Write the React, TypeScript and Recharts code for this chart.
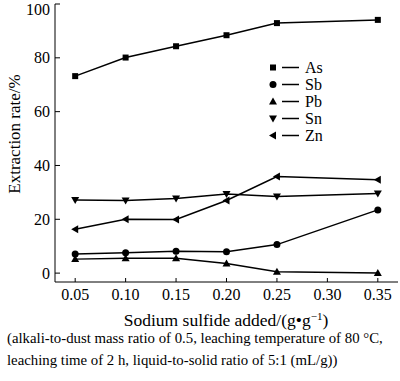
import React from "react";
import { Legend, Line, LineChart, XAxis, YAxis } from "recharts";

const doses = [0.05, 0.1, 0.15, 0.2, 0.25, 0.35];
const xTicks = [0.05, 0.1, 0.15, 0.2, 0.25, 0.3, 0.35];
const yTicks = [0, 20, 40, 60, 80, 100];

const asRate = [73.2, 80.1, 84.3, 88.4, 92.9, 94.1];
const sbRate = [7.1, 7.6, 8.1, 7.9, 10.6, 23.5];
const pbRate = [5.2, 5.5, 5.5, 3.6, 0.5, 0];
const snRate = [27.2, 27.0, 27.7, 29.4, 28.5, 29.6];
const znRate = [16.3, 20.0, 19.9, 27.0, 35.9, 34.7];

const FONT = '"Liberation Serif", "Times New Roman", serif';

type Shape = "square" | "circle" | "up" | "down" | "left";

const SERIES: { key: string; name: string; shape: Shape }[] = [
  { key: "As", name: "As", shape: "square" },
  { key: "Sb", name: "Sb", shape: "circle" },
  { key: "Pb", name: "Pb", shape: "up" },
  { key: "Sn", name: "Sn", shape: "down" },
  { key: "Zn", name: "Zn", shape: "left" },
];

const data = doses.map((d, i) => ({
  dose: d,
  As: asRate[i],
  Sb: sbRate[i],
  Pb: pbRate[i],
  Sn: snRate[i],
  Zn: znRate[i],
}));

function marker(shape: Shape, cx: number, cy: number, key?: string | number) {
  const fill = "#000";
  switch (shape) {
    case "square":
      return <rect key={key} x={cx - 3} y={cy - 3} width={6} height={6} fill={fill} />;
    case "circle":
      return <circle key={key} cx={cx} cy={cy} r={3.5} fill={fill} />;
    case "up":
      return (
        <polygon
          key={key}
          points={`${cx},${cy - 4} ${cx - 4},${cy + 3} ${cx + 4},${cy + 3}`}
          fill={fill}
        />
      );
    case "down":
      return (
        <polygon
          key={key}
          points={`${cx - 4},${cy - 3} ${cx + 4},${cy - 3} ${cx},${cy + 4}`}
          fill={fill}
        />
      );
    default:
      return (
        <polygon
          key={key}
          points={`${cx - 4},${cy} ${cx + 3},${cy - 4} ${cx + 3},${cy + 4}`}
          fill={fill}
        />
      );
  }
}

function renderLegend() {
  return (
    <div style={{ fontFamily: FONT, fontSize: 16, lineHeight: "16px" }}>
      {SERIES.map((s) => (
        <div key={s.key} style={{ display: "flex", alignItems: "center", height: 17 }}>
          <svg width={32} height={17}>
            {marker(s.shape, 5, 8.5)}
            <line x1={14} x2={31} y1={8.5} y2={8.5} stroke="#000" strokeWidth={1.5} />
          </svg>
          <span style={{ marginLeft: 5 }}>{s.name}</span>
        </div>
      ))}
    </div>
  );
}

function XLabel() {
  return (
    <text x={226} y={326} textAnchor="middle" fontFamily={FONT} fontSize={17.5} fill="#000">
      <tspan>Sodium sulfide added/(g•g</tspan>
      <tspan dy={-6} fontSize={11}>
        −1
      </tspan>
      <tspan dy={6}>)</tspan>
    </text>
  );
}

function YLabel() {
  return (
    <text
      x={14}
      y={134}
      transform="rotate(-90, 14, 134)"
      textAnchor="middle"
      dominantBaseline="central"
      fontFamily={FONT}
      fontSize={17}
      fill="#000"
    >
      Extraction rate/%
    </text>
  );
}

function XTick(p: any) {
  return (
    <text x={p.x} y={p.y + 12} textAnchor="middle" fontFamily={FONT} fontSize={16} fill="#000">
      {Number(p.payload.value).toFixed(2)}
    </text>
  );
}

function YTick(p: any) {
  return (
    <text x={p.x} y={p.y + 5.5} textAnchor="end" fontFamily={FONT} fontSize={16} fill="#000">
      {p.payload.value}
    </text>
  );
}

export default function App() {
  return (
    <div
      style={{
        position: "absolute",
        left: 0,
        top: 0,
        width: 400,
        height: 381,
        background: "#fff",
        fontFamily: FONT,
      }}
    >
      <LineChart
        width={400}
        height={335}
        data={data}
        margin={{ top: 4, right: 2, bottom: 0, left: 0 }}
      >
        <XAxis
          dataKey="dose"
          type="number"
          domain={[0.03, 0.37]}
          ticks={xTicks}
          allowDataOverflow
          height={53}
          tickSize={-4}
          tickMargin={10}
          tick={<XTick />}
          stroke="#000"
          label={{ content: () => <XLabel /> }}
        />
        <XAxis
          xAxisId="top"
          orientation="top"
          height={0}
          tick={false}
          tickLine={false}
          stroke="#7a7a7a"
        />
        <YAxis
          domain={[-3.3, 100]}
          ticks={yTicks}
          allowDataOverflow
          width={55}
          tickSize={-5}
          tickMargin={10}
          tick={<YTick />}
          stroke="#000"
          label={{ content: () => <YLabel /> }}
        />
        <YAxis
          yAxisId="right"
          orientation="right"
          width={0}
          tick={false}
          tickLine={false}
          stroke="#7a7a7a"
        />
        <Legend
          layout="vertical"
          align="center"
          verticalAlign="middle"
          content={renderLegend}
          wrapperStyle={{ position: "absolute", left: 268, top: 59, width: 80 }}
        />
        {SERIES.map((s) => (
          <Line
            key={s.key}
            dataKey={s.key}
            name={s.name}
            stroke="#000"
            strokeWidth={1.5}
            isAnimationActive={false}
            dot={(p: any) => marker(s.shape, p.cx, p.cy, `${s.key}-${p.index}`)}
            activeDot={false}
          />
        ))}
      </LineChart>
      <div
        style={{
          position: "absolute",
          left: 7,
          top: 327,
          fontFamily: FONT,
          fontSize: 14.8,
          lineHeight: "22px",
          color: "#000",
          whiteSpace: "nowrap",
        }}
      >
        <div>(alkali-to-dust mass ratio of 0.5, leaching temperature of 80 °C,</div>
        <div>leaching time of 2 h, liquid-to-solid ratio of 5:1 (mL/g))</div>
      </div>
    </div>
  );
}
